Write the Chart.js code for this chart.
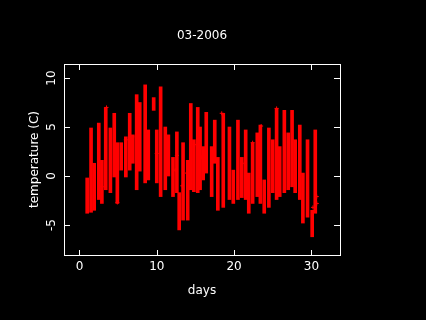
<!DOCTYPE html>
<html>
<head>
<meta charset="utf-8">
<script src="https://cdn.jsdelivr.net/npm/chart.js@4"></script>
<style>
  body { margin: 0; background: #000; }
  canvas { display: block; }
</style>
</head>
<body>
<canvas id="tempChart" width="426" height="320"></canvas>
<script>
// daily streaks of temperature readings (day, highest, lowest)
const streakDays = [1.0, 1.5, 1.9, 2.5, 2.9, 3.4, 4.0, 4.5, 4.9, 5.4, 6.0, 6.5, 6.9, 7.4, 7.8,
  8.5, 8.9, 9.6, 10.0, 10.5, 11.1, 11.5, 12.1, 12.6, 12.9, 13.4, 14.0, 14.4, 14.8, 15.3,
  15.6, 16.0, 16.4, 17.1, 17.5, 17.9, 18.6, 19.4, 19.9, 20.5, 21.0, 21.5, 21.9, 22.4, 23.0,
  23.4, 23.9, 24.5, 25.0, 25.5, 25.9, 26.5, 27.0, 27.5, 27.9, 28.5, 28.9, 29.5, 30.1, 30.5];
const streakHigh = [-0.2, 4.9, 1.3, 5.4, 1.6, 7.0, 4.9, 6.4, 3.4, 3.4, 4.0, 6.4, 4.2, 8.3, 7.5,
  9.3, 4.7, 8.0, 4.7, 9.1, 5.0, 4.2, 1.9, 4.5, -1.7, 3.4, 1.6, 7.4, 3.7, 7.0,
  5.0, 3.0, 6.5, 3.0, 5.7, 1.9, 6.4, 5.0, 0.6, 5.7, 1.9, 4.7, 0.3, 3.4, 4.4,
  5.2, -0.4, 4.9, 3.7, 6.9, 3.0, 6.7, 4.4, 6.7, 3.7, 5.2, 0.3, 3.7, -3.5, 4.7];
const streakLow = [-3.8, -3.7, -3.5, -2.4, -2.8, -1.4, -1.7, -0.1, -2.8, 0.6, -0.1, 0.6, 1.3, -1.4, 0.5,
  -0.7, -0.4, 6.7, -0.7, -2.1, -1.4, 0.0, -2.1, -1.7, -5.5, -4.5, -4.5, -1.4, -1.6, -1.7,
  -1.4, -0.4, 0.3, -2.1, 1.3, -3.5, -3.2, -2.4, -2.8, -2.4, -2.2, -2.4, -3.8, -2.8, -2.1,
  -2.8, -3.8, -3.2, -1.7, -2.4, -2.1, -1.7, -1.4, -1.1, -1.7, -2.4, -4.8, -4.2, -6.2, -3.8];

// single readings lying off the streaks
const looseDays = [2.9, 3.5, 4.9, 6.0, 7.4, 8.7, 10.0, 11.3, 12.4, 12.6, 13.3, 13.9, 14.9, 15.8,
  18.4, 21.1, 22.4, 23.5, 25.5, 30.2, 30.7, 30.7];
const looseTemps = [-1.1, 7.0, -2.7, 3.7, 4.0, 3.9, 2.3, 2.9, 0.6, 2.1, -1.0, 0.3, 3.2, 1.9,
  6.4, 1.3, 3.4, 5.1, 6.9, -3.2, -2.1, -2.8];

const xTicks = [0, 10, 20, 30];
const yTicks = [-5, 0, 5, 10];

const ctx = document.getElementById('tempChart').getContext('2d');
const FONT = "12px 'DejaVu Sans', sans-serif";

// R style frame: box, inward ticks on all sides, labels
const rFrame = {
  id: 'rFrame',
  beforeDraw(chart) {
    const c = chart.ctx;
    c.save();
    c.fillStyle = '#000';
    c.fillRect(0, 0, chart.width, chart.height);
    c.restore();
  },
  afterDraw(chart) {
    const c = chart.ctx;
    const a = chart.chartArea;
    const xs = chart.scales.x, ys = chart.scales.y;
    c.save();
    c.strokeStyle = '#fff';
    c.lineWidth = 1;
    c.strokeRect(a.left + 0.5, a.top + 0.5, a.right - a.left, a.bottom - a.top);

    c.beginPath();
    xTicks.forEach(v => {
      const px = Math.round(xs.getPixelForValue(v)) + 0.5;
      c.moveTo(px, a.bottom); c.lineTo(px, a.bottom - 5);
      c.moveTo(px, a.top); c.lineTo(px, a.top + 6);
    });
    yTicks.forEach(v => {
      const py = Math.round(ys.getPixelForValue(v)) + 0.5;
      c.moveTo(a.left, py); c.lineTo(a.left + 6, py);
      c.moveTo(a.right, py); c.lineTo(a.right - 6, py);
    });
    c.stroke();

    c.fillStyle = '#fff';
    c.font = FONT;
    c.textAlign = 'center';
    c.textBaseline = 'middle';
    xTicks.forEach(v => c.fillText(String(v), xs.getPixelForValue(v), 267));
    yTicks.forEach(v => {
      c.save();
      c.translate(52, ys.getPixelForValue(v));
      c.rotate(-Math.PI / 2);
      c.fillText(String(v), 0, 0);
      c.restore();
    });

    c.fillText('03-2006', (a.left + a.right) / 2, 36);
    c.fillText('days', (a.left + a.right) / 2, 291);
    c.save();
    c.translate(35, (a.top + a.bottom) / 2);
    c.rotate(-Math.PI / 2);
    c.fillText('temperature (C)', 0, 0);
    c.restore();
    c.restore();
  }
};

new Chart(ctx, {
  type: 'bar',
  data: {
    datasets: [{
      data: streakDays.map((d, i) => ({ x: d, y: [streakLow[i], streakHigh[i]] })),
      backgroundColor: '#ff0000',
      borderWidth: 0,
      barThickness: 3
    }, {
      type: 'scatter',
      data: looseDays.map((d, i) => ({ x: d, y: looseTemps[i] })),
      pointStyle: 'cross',
      radius: 2,
      borderColor: '#ff0000',
      borderWidth: 1
    }]
  },
  options: {
    responsive: false,
    devicePixelRatio: 1,
    animation: false,
    layout: { padding: { left: 64, right: 86, top: 64, bottom: 65 } },
    scales: {
      x: { type: 'linear', min: -2.0, max: 33.7, offset: false, display: false },
      y: { type: 'linear', min: -8.06, max: 11.43, display: false }
    },
    plugins: { legend: { display: false }, tooltip: { enabled: false } }
  },
  plugins: [rFrame]
});
</script>
</body>
</html>
